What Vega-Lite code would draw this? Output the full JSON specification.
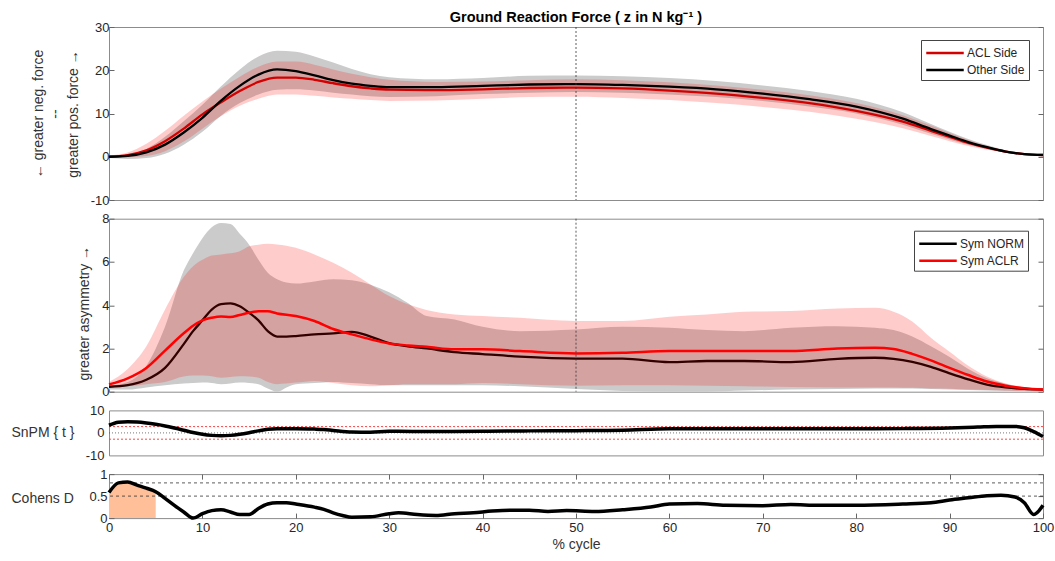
{
  "$schema": "https://vega.github.io/schema/vega-lite/v6.json",
  "padding": {"left": 10, "top": 9, "right": 10, "bottom": 2},
  "background": "white",
  "config": {
    "font": "Liberation Sans",
    "view": {"stroke": "#8c8c8c", "strokeWidth": 1},
    "axis": {
      "grid": false, "domain": false, "labelFlush": false, "labelOverlap": false,
      "labelFont": "Liberation Sans", "labelFontSize": 13, "labelColor": "#262626",
      "tickColor": "#666666", "tickSize": -5, "labelPadding": 5,
      "titleFont": "Liberation Sans", "titleFontSize": 14, "titleFontWeight": "normal", "titleColor": "#333333"
    },
    "legend": {
      "orient": "none", "strokeColor": "#444444", "fillColor": "white", "padding": 4,
      "labelFont": "Liberation Sans", "labelFontSize": 12, "labelColor": "#262626",
      "symbolType": "M-2.5,0H2.5", "symbolSize": 225, "symbolStrokeWidth": 2.5,
      "symbolOffset": 11, "labelOffset": 13, "rowPadding": 2
    }
  },
  "spacing": 18.7,
  "bounds": "flush",
  "resolve": {"scale": {"color": "independent", "x": "independent", "y": "independent"}, "legend": {"color": "independent"}},
  "datasets": {
    "grf": [
      {"x": 0, "series": "Other Side", "m": 0.0, "lo": -0.3, "hi": 0.3},
      {"x": 2, "series": "Other Side", "m": 0.2, "lo": -0.5, "hi": 0.5},
      {"x": 4, "series": "Other Side", "m": 1.0, "lo": -0.3, "hi": 1.8},
      {"x": 6, "series": "Other Side", "m": 2.8, "lo": 0.7, "hi": 4.6},
      {"x": 8, "series": "Other Side", "m": 5.6, "lo": 2.8, "hi": 8.2},
      {"x": 10, "series": "Other Side", "m": 9.0, "lo": 5.8, "hi": 12.0},
      {"x": 12, "series": "Other Side", "m": 13.0, "lo": 9.5, "hi": 16.3},
      {"x": 14, "series": "Other Side", "m": 16.4, "lo": 12.4, "hi": 20.2},
      {"x": 16, "series": "Other Side", "m": 19.0, "lo": 14.4, "hi": 23.2},
      {"x": 18, "series": "Other Side", "m": 20.2, "lo": 15.5, "hi": 24.5},
      {"x": 20, "series": "Other Side", "m": 19.8, "lo": 15.6, "hi": 24.3},
      {"x": 22, "series": "Other Side", "m": 18.8, "lo": 15.3, "hi": 23.2},
      {"x": 24, "series": "Other Side", "m": 17.7, "lo": 14.8, "hi": 21.8},
      {"x": 26, "series": "Other Side", "m": 16.9, "lo": 14.4, "hi": 20.3},
      {"x": 28, "series": "Other Side", "m": 16.4, "lo": 14.0, "hi": 19.1},
      {"x": 30, "series": "Other Side", "m": 16.1, "lo": 13.8, "hi": 18.4},
      {"x": 35, "series": "Other Side", "m": 16.1, "lo": 14.0, "hi": 17.9},
      {"x": 40, "series": "Other Side", "m": 16.4, "lo": 14.5, "hi": 18.2},
      {"x": 45, "series": "Other Side", "m": 16.7, "lo": 14.8, "hi": 18.7},
      {"x": 50, "series": "Other Side", "m": 16.8, "lo": 15.0, "hi": 18.8},
      {"x": 55, "series": "Other Side", "m": 16.6, "lo": 14.8, "hi": 18.6},
      {"x": 60, "series": "Other Side", "m": 16.2, "lo": 14.4, "hi": 18.2},
      {"x": 65, "series": "Other Side", "m": 15.6, "lo": 13.8, "hi": 17.5},
      {"x": 70, "series": "Other Side", "m": 14.6, "lo": 12.9, "hi": 16.5},
      {"x": 75, "series": "Other Side", "m": 13.3, "lo": 11.6, "hi": 15.2},
      {"x": 80, "series": "Other Side", "m": 11.6, "lo": 10.0, "hi": 13.4},
      {"x": 85, "series": "Other Side", "m": 8.8, "lo": 7.4, "hi": 10.3},
      {"x": 88, "series": "Other Side", "m": 6.4, "lo": 5.3, "hi": 7.6},
      {"x": 90, "series": "Other Side", "m": 4.9, "lo": 4.0, "hi": 5.8},
      {"x": 92, "series": "Other Side", "m": 3.4, "lo": 2.8, "hi": 4.1},
      {"x": 94, "series": "Other Side", "m": 2.2, "lo": 1.8, "hi": 2.7},
      {"x": 96, "series": "Other Side", "m": 1.2, "lo": 0.9, "hi": 1.5},
      {"x": 98, "series": "Other Side", "m": 0.6, "lo": 0.4, "hi": 0.8},
      {"x": 100, "series": "Other Side", "m": 0.4, "lo": 0.3, "hi": 0.5},
      {"x": 0, "series": "ACL Side", "m": 0.0, "lo": -0.2, "hi": 0.3},
      {"x": 2, "series": "ACL Side", "m": 0.4, "lo": -0.1, "hi": 1.0},
      {"x": 4, "series": "ACL Side", "m": 1.5, "lo": 0.2, "hi": 3.0},
      {"x": 6, "series": "ACL Side", "m": 3.6, "lo": 1.3, "hi": 6.0},
      {"x": 8, "series": "ACL Side", "m": 6.5, "lo": 3.5, "hi": 9.5},
      {"x": 10, "series": "ACL Side", "m": 9.8, "lo": 6.5, "hi": 12.8},
      {"x": 12, "series": "ACL Side", "m": 12.6, "lo": 9.4, "hi": 15.8},
      {"x": 14, "series": "ACL Side", "m": 15.2, "lo": 11.8, "hi": 18.5},
      {"x": 16, "series": "ACL Side", "m": 17.3, "lo": 13.4, "hi": 20.8},
      {"x": 18, "series": "ACL Side", "m": 18.3, "lo": 14.4, "hi": 22.0},
      {"x": 20, "series": "ACL Side", "m": 18.3, "lo": 14.4, "hi": 22.0},
      {"x": 22, "series": "ACL Side", "m": 17.8, "lo": 14.1, "hi": 21.3},
      {"x": 24, "series": "ACL Side", "m": 17.0, "lo": 13.7, "hi": 20.2},
      {"x": 26, "series": "ACL Side", "m": 16.3, "lo": 13.4, "hi": 19.2},
      {"x": 28, "series": "ACL Side", "m": 15.8, "lo": 13.1, "hi": 18.4},
      {"x": 30, "series": "ACL Side", "m": 15.5, "lo": 12.9, "hi": 17.8},
      {"x": 35, "series": "ACL Side", "m": 15.4, "lo": 13.0, "hi": 17.3},
      {"x": 40, "series": "ACL Side", "m": 15.6, "lo": 13.4, "hi": 17.4},
      {"x": 45, "series": "ACL Side", "m": 15.9, "lo": 13.8, "hi": 17.7},
      {"x": 50, "series": "ACL Side", "m": 16.0, "lo": 13.9, "hi": 17.9},
      {"x": 55, "series": "ACL Side", "m": 15.8, "lo": 13.6, "hi": 17.7},
      {"x": 60, "series": "ACL Side", "m": 15.3, "lo": 13.1, "hi": 17.2},
      {"x": 65, "series": "ACL Side", "m": 14.6, "lo": 12.4, "hi": 16.5},
      {"x": 70, "series": "ACL Side", "m": 13.6, "lo": 11.5, "hi": 15.5},
      {"x": 75, "series": "ACL Side", "m": 12.4, "lo": 10.4, "hi": 14.2},
      {"x": 80, "series": "ACL Side", "m": 10.6, "lo": 8.8, "hi": 12.4},
      {"x": 85, "series": "ACL Side", "m": 8.1, "lo": 6.6, "hi": 9.6},
      {"x": 88, "series": "ACL Side", "m": 6.0, "lo": 4.8, "hi": 7.2},
      {"x": 90, "series": "ACL Side", "m": 4.6, "lo": 3.6, "hi": 5.5},
      {"x": 92, "series": "ACL Side", "m": 3.2, "lo": 2.5, "hi": 3.9},
      {"x": 94, "series": "ACL Side", "m": 2.1, "lo": 1.6, "hi": 2.5},
      {"x": 96, "series": "ACL Side", "m": 1.2, "lo": 0.9, "hi": 1.4},
      {"x": 98, "series": "ACL Side", "m": 0.6, "lo": 0.4, "hi": 0.7},
      {"x": 100, "series": "ACL Side", "m": 0.4, "lo": 0.3, "hi": 0.5}
    ],
    "asym": [
      {"x": 0, "series": "Sym NORM", "m": 0.23, "lo": 0.1, "hi": 0.28},
      {"x": 2, "series": "Sym NORM", "m": 0.3, "lo": 0.1, "hi": 0.45},
      {"x": 4, "series": "Sym NORM", "m": 0.55, "lo": 0.2, "hi": 1.2},
      {"x": 6, "series": "Sym NORM", "m": 1.1, "lo": 0.3, "hi": 3.0},
      {"x": 8, "series": "Sym NORM", "m": 2.2, "lo": 0.38, "hi": 5.6},
      {"x": 9, "series": "Sym NORM", "m": 2.8, "lo": 0.4, "hi": 6.4},
      {"x": 10, "series": "Sym NORM", "m": 3.3, "lo": 0.42, "hi": 7.1},
      {"x": 11, "series": "Sym NORM", "m": 3.8, "lo": 0.4, "hi": 7.6},
      {"x": 12, "series": "Sym NORM", "m": 4.05, "lo": 0.35, "hi": 7.8},
      {"x": 13, "series": "Sym NORM", "m": 4.08, "lo": 0.38, "hi": 7.75},
      {"x": 14, "series": "Sym NORM", "m": 3.95, "lo": 0.42, "hi": 7.3},
      {"x": 15, "series": "Sym NORM", "m": 3.65, "lo": 0.4, "hi": 6.8},
      {"x": 16, "series": "Sym NORM", "m": 3.3, "lo": 0.35, "hi": 6.1},
      {"x": 17, "series": "Sym NORM", "m": 2.8, "lo": 0.15, "hi": 5.5},
      {"x": 18, "series": "Sym NORM", "m": 2.55, "lo": 0.0, "hi": 5.2},
      {"x": 19, "series": "Sym NORM", "m": 2.55, "lo": 0.2, "hi": 5.05},
      {"x": 20, "series": "Sym NORM", "m": 2.57, "lo": 0.35, "hi": 5.0},
      {"x": 22, "series": "Sym NORM", "m": 2.65, "lo": 0.4, "hi": 5.1},
      {"x": 24, "series": "Sym NORM", "m": 2.7, "lo": 0.45, "hi": 5.2},
      {"x": 26, "series": "Sym NORM", "m": 2.77, "lo": 0.4, "hi": 5.15},
      {"x": 28, "series": "Sym NORM", "m": 2.55, "lo": 0.35, "hi": 4.95},
      {"x": 30, "series": "Sym NORM", "m": 2.25, "lo": 0.3, "hi": 4.6},
      {"x": 32, "series": "Sym NORM", "m": 2.1, "lo": 0.3, "hi": 4.1},
      {"x": 34, "series": "Sym NORM", "m": 2.0, "lo": 0.3, "hi": 3.5},
      {"x": 37, "series": "Sym NORM", "m": 1.83, "lo": 0.3, "hi": 3.34},
      {"x": 40, "series": "Sym NORM", "m": 1.74, "lo": 0.3, "hi": 3.0},
      {"x": 44, "series": "Sym NORM", "m": 1.62, "lo": 0.25, "hi": 2.8},
      {"x": 50, "series": "Sym NORM", "m": 1.53, "lo": 0.12, "hi": 2.88},
      {"x": 55, "series": "Sym NORM", "m": 1.53, "lo": 0.03, "hi": 3.0},
      {"x": 60, "series": "Sym NORM", "m": 1.37, "lo": 0.0, "hi": 2.96},
      {"x": 64, "series": "Sym NORM", "m": 1.42, "lo": 0.0, "hi": 2.85},
      {"x": 68, "series": "Sym NORM", "m": 1.42, "lo": 0.05, "hi": 2.8},
      {"x": 73, "series": "Sym NORM", "m": 1.37, "lo": 0.1, "hi": 2.96},
      {"x": 78, "series": "Sym NORM", "m": 1.52, "lo": 0.12, "hi": 3.03},
      {"x": 82, "series": "Sym NORM", "m": 1.57, "lo": 0.15, "hi": 2.96},
      {"x": 84, "series": "Sym NORM", "m": 1.52, "lo": 0.15, "hi": 2.85},
      {"x": 86, "series": "Sym NORM", "m": 1.38, "lo": 0.15, "hi": 2.55},
      {"x": 88, "series": "Sym NORM", "m": 1.15, "lo": 0.12, "hi": 2.1},
      {"x": 90, "series": "Sym NORM", "m": 0.85, "lo": 0.1, "hi": 1.6},
      {"x": 92, "series": "Sym NORM", "m": 0.57, "lo": 0.08, "hi": 1.05},
      {"x": 94, "series": "Sym NORM", "m": 0.33, "lo": 0.05, "hi": 0.62},
      {"x": 96, "series": "Sym NORM", "m": 0.2, "lo": 0.03, "hi": 0.37},
      {"x": 98, "series": "Sym NORM", "m": 0.13, "lo": 0.02, "hi": 0.2},
      {"x": 100, "series": "Sym NORM", "m": 0.1, "lo": 0.0, "hi": 0.1},
      {"x": 0, "series": "Sym ACLR", "m": 0.34, "lo": 0.2, "hi": 0.45},
      {"x": 2, "series": "Sym ACLR", "m": 0.62, "lo": 0.25, "hi": 1.05},
      {"x": 4, "series": "Sym ACLR", "m": 1.1, "lo": 0.35, "hi": 2.1},
      {"x": 6, "series": "Sym ACLR", "m": 1.9, "lo": 0.45, "hi": 3.8},
      {"x": 8, "series": "Sym ACLR", "m": 2.7, "lo": 0.7, "hi": 5.3},
      {"x": 9, "series": "Sym ACLR", "m": 3.05, "lo": 0.75, "hi": 5.8},
      {"x": 10, "series": "Sym ACLR", "m": 3.3, "lo": 0.75, "hi": 6.1},
      {"x": 11, "series": "Sym ACLR", "m": 3.42, "lo": 0.72, "hi": 6.3},
      {"x": 12, "series": "Sym ACLR", "m": 3.48, "lo": 0.65, "hi": 6.35},
      {"x": 13, "series": "Sym ACLR", "m": 3.45, "lo": 0.68, "hi": 6.4},
      {"x": 14, "series": "Sym ACLR", "m": 3.55, "lo": 0.72, "hi": 6.5},
      {"x": 15, "series": "Sym ACLR", "m": 3.65, "lo": 0.7, "hi": 6.73},
      {"x": 16, "series": "Sym ACLR", "m": 3.72, "lo": 0.65, "hi": 6.8},
      {"x": 17, "series": "Sym ACLR", "m": 3.72, "lo": 0.45, "hi": 6.84},
      {"x": 18, "series": "Sym ACLR", "m": 3.62, "lo": 0.35, "hi": 6.81},
      {"x": 20, "series": "Sym ACLR", "m": 3.5, "lo": 0.42, "hi": 6.66},
      {"x": 22, "series": "Sym ACLR", "m": 3.27, "lo": 0.5, "hi": 6.35},
      {"x": 24, "series": "Sym ACLR", "m": 2.9, "lo": 0.4, "hi": 5.96},
      {"x": 26, "series": "Sym ACLR", "m": 2.65, "lo": 0.3, "hi": 5.5},
      {"x": 28, "series": "Sym ACLR", "m": 2.42, "lo": 0.25, "hi": 4.96},
      {"x": 30, "series": "Sym ACLR", "m": 2.23, "lo": 0.3, "hi": 4.42},
      {"x": 32, "series": "Sym ACLR", "m": 2.14, "lo": 0.35, "hi": 4.04},
      {"x": 34, "series": "Sym ACLR", "m": 2.08, "lo": 0.35, "hi": 3.78},
      {"x": 37, "series": "Sym ACLR", "m": 1.96, "lo": 0.35, "hi": 3.57},
      {"x": 40, "series": "Sym ACLR", "m": 1.96, "lo": 0.4, "hi": 3.5},
      {"x": 44, "series": "Sym ACLR", "m": 1.88, "lo": 0.35, "hi": 3.42},
      {"x": 50, "series": "Sym ACLR", "m": 1.77, "lo": 0.28, "hi": 3.27},
      {"x": 55, "series": "Sym ACLR", "m": 1.8, "lo": 0.3, "hi": 3.27},
      {"x": 60, "series": "Sym ACLR", "m": 1.88, "lo": 0.3, "hi": 3.47},
      {"x": 64, "series": "Sym ACLR", "m": 1.88, "lo": 0.28, "hi": 3.57},
      {"x": 68, "series": "Sym ACLR", "m": 1.88, "lo": 0.25, "hi": 3.7},
      {"x": 73, "series": "Sym ACLR", "m": 1.88, "lo": 0.22, "hi": 3.73},
      {"x": 78, "series": "Sym ACLR", "m": 2.0, "lo": 0.2, "hi": 3.85},
      {"x": 82, "series": "Sym ACLR", "m": 2.03, "lo": 0.2, "hi": 3.88},
      {"x": 84, "series": "Sym ACLR", "m": 1.97, "lo": 0.2, "hi": 3.7},
      {"x": 86, "series": "Sym ACLR", "m": 1.75, "lo": 0.18, "hi": 3.25},
      {"x": 88, "series": "Sym ACLR", "m": 1.45, "lo": 0.15, "hi": 2.5},
      {"x": 90, "series": "Sym ACLR", "m": 1.1, "lo": 0.14, "hi": 1.85},
      {"x": 92, "series": "Sym ACLR", "m": 0.77, "lo": 0.1, "hi": 1.2},
      {"x": 94, "series": "Sym ACLR", "m": 0.47, "lo": 0.08, "hi": 0.7},
      {"x": 96, "series": "Sym ACLR", "m": 0.28, "lo": 0.05, "hi": 0.38},
      {"x": 98, "series": "Sym ACLR", "m": 0.16, "lo": 0.03, "hi": 0.2},
      {"x": 100, "series": "Sym ACLR", "m": 0.1, "lo": 0.02, "hi": 0.1}
    ],
    "snpm": [
      {"x": 0, "t": 3.4}, {"x": 1, "t": 4.7}, {"x": 2, "t": 5.0}, {"x": 3, "t": 4.85},
      {"x": 4, "t": 4.4}, {"x": 5, "t": 3.8}, {"x": 6, "t": 3.1}, {"x": 7, "t": 2.2},
      {"x": 8, "t": 1.2}, {"x": 9, "t": 0.2}, {"x": 10, "t": -0.6}, {"x": 11, "t": -1.1},
      {"x": 12, "t": -1.3}, {"x": 13, "t": -1.1}, {"x": 14, "t": -0.6}, {"x": 15, "t": 0.1},
      {"x": 16, "t": 0.9}, {"x": 17, "t": 1.6}, {"x": 18, "t": 1.9}, {"x": 20, "t": 1.9},
      {"x": 22, "t": 1.7}, {"x": 23, "t": 1.5}, {"x": 24, "t": 1.1}, {"x": 26, "t": 0.4},
      {"x": 28, "t": 0.3}, {"x": 30, "t": 0.7}, {"x": 35, "t": 0.6}, {"x": 40, "t": 0.7},
      {"x": 45, "t": 0.9}, {"x": 50, "t": 1.0}, {"x": 55, "t": 1.2}, {"x": 60, "t": 1.8},
      {"x": 65, "t": 1.8}, {"x": 70, "t": 1.8}, {"x": 75, "t": 1.8}, {"x": 80, "t": 1.8},
      {"x": 85, "t": 1.9}, {"x": 90, "t": 2.2}, {"x": 93, "t": 2.6}, {"x": 95, "t": 2.9},
      {"x": 97, "t": 2.9}, {"x": 98, "t": 2.3}, {"x": 99, "t": 0.6}, {"x": 100, "t": -1.6}
    ],
    "cohen": [
      {"x": 0, "d": 0.58}, {"x": 1, "d": 0.8}, {"x": 2, "d": 0.82}, {"x": 3, "d": 0.75},
      {"x": 4, "d": 0.68}, {"x": 5, "d": 0.6}, {"x": 6, "d": 0.45}, {"x": 7, "d": 0.29},
      {"x": 8, "d": 0.14}, {"x": 9, "d": 0.0}, {"x": 10, "d": 0.1}, {"x": 11, "d": 0.17},
      {"x": 12, "d": 0.19}, {"x": 13, "d": 0.14}, {"x": 14, "d": 0.08}, {"x": 15, "d": 0.08},
      {"x": 16, "d": 0.22}, {"x": 17, "d": 0.32}, {"x": 18, "d": 0.35}, {"x": 19, "d": 0.35},
      {"x": 20, "d": 0.32}, {"x": 22, "d": 0.25}, {"x": 23, "d": 0.2}, {"x": 24, "d": 0.12},
      {"x": 25, "d": 0.06}, {"x": 26, "d": 0.02}, {"x": 28, "d": 0.03}, {"x": 30, "d": 0.1},
      {"x": 31, "d": 0.12}, {"x": 33, "d": 0.08}, {"x": 35, "d": 0.06}, {"x": 37, "d": 0.1},
      {"x": 39, "d": 0.12}, {"x": 41, "d": 0.16}, {"x": 43, "d": 0.18}, {"x": 45, "d": 0.18},
      {"x": 47, "d": 0.15}, {"x": 49, "d": 0.17}, {"x": 52, "d": 0.15}, {"x": 55, "d": 0.19},
      {"x": 58, "d": 0.25}, {"x": 60, "d": 0.32}, {"x": 63, "d": 0.33}, {"x": 66, "d": 0.29},
      {"x": 70, "d": 0.28}, {"x": 73, "d": 0.31}, {"x": 76, "d": 0.29}, {"x": 80, "d": 0.29},
      {"x": 85, "d": 0.32}, {"x": 88, "d": 0.35}, {"x": 90, "d": 0.41}, {"x": 92, "d": 0.46},
      {"x": 94, "d": 0.51}, {"x": 95.5, "d": 0.52}, {"x": 97, "d": 0.48}, {"x": 98, "d": 0.35},
      {"x": 99, "d": 0.08}, {"x": 100, "d": 0.29}
    ]
  },
  "vconcat": [
    {
      "width": 934, "height": 173,
      "title": {"text": "Ground Reaction Force ( z in N kg⁻¹ )", "fontSize": 14.5, "fontWeight": "bold", "anchor": "middle", "frame": "group", "offset": -4, "color": "#000000", "font": "Liberation Sans"},
      "data": {"name": "grf"},
      "resolve": {"axis": {"y": "independent"}},
      "layer": [
        {
          "transform": [{"filter": "datum.series === 'Other Side'"}],
          "mark": {"type": "area", "interpolate": "monotone", "color": "#cbcbcb", "opacity": 1},
          "encoding": {
            "x": {"field": "x", "type": "quantitative", "scale": {"domain": [0, 100], "nice": false}, "axis": null},
            "y": {"field": "lo", "type": "quantitative", "scale": {"domain": [-10, 30], "nice": false},
              "axis": {"values": [-10, 0, 10, 20, 30], "labelExpr": "'' + datum.value",
                "title": ["← greater neg. force", "--", "greater pos. force →"],
                "titleAngle": -90, "titleX": -71, "titleY": 86.5, "titleAlign": "center", "titleBaseline": "middle", "titleLineHeight": 17.5}},
            "y2": {"field": "hi"}
          }
        },
        {
          "transform": [{"filter": "datum.series === 'ACL Side'"}],
          "mark": {"type": "area", "interpolate": "monotone", "color": "#ff0000", "opacity": 0.2},
          "encoding": {
            "x": {"field": "x", "type": "quantitative", "axis": null},
            "y": {"field": "lo", "type": "quantitative", "axis": null},
            "y2": {"field": "hi"}
          }
        },
        {
          "transform": [{"filter": "datum.series === 'ACL Side'"}],
          "mark": {"type": "line", "interpolate": "monotone", "strokeWidth": 2.3},
          "encoding": {
            "x": {"field": "x", "type": "quantitative", "axis": null},
            "y": {"field": "m", "type": "quantitative", "axis": null},
            "color": {"field": "series", "type": "nominal", "scale": {"domain": ["ACL Side", "Other Side"], "range": ["#d40000", "#000000"]}, "legend": {"title": null, "legendX": 812, "legendY": 13}}
          }
        },
        {
          "transform": [{"filter": "datum.series === 'Other Side'"}],
          "mark": {"type": "line", "interpolate": "monotone", "strokeWidth": 2.3},
          "encoding": {
            "x": {"field": "x", "type": "quantitative", "axis": null},
            "y": {"field": "m", "type": "quantitative", "axis": {"orient": "right", "values": [-10, 0, 10, 20, 30], "labels": false, "title": null}},
            "color": {"field": "series", "type": "nominal"}
          }
        },
        {
          "data": {"values": [{"x": 50}]},
          "mark": {"type": "rule", "color": "#333333", "strokeDash": [2, 2], "strokeWidth": 0.8},
          "encoding": {"x": {"field": "x", "type": "quantitative", "axis": null}}
        }
      ]
    },
    {
      "width": 934, "height": 173,
      "data": {"name": "asym"},
      "resolve": {"axis": {"y": "independent"}},
      "layer": [
        {
          "transform": [{"filter": "datum.series === 'Sym NORM'"}],
          "mark": {"type": "area", "interpolate": "monotone", "color": "#cbcbcb", "opacity": 1},
          "encoding": {
            "x": {"field": "x", "type": "quantitative", "scale": {"domain": [0, 100], "nice": false}, "axis": null},
            "y": {"field": "lo", "type": "quantitative", "scale": {"domain": [0, 8], "nice": false},
              "axis": {"values": [0, 2, 4, 6, 8], "labelExpr": "'' + datum.value",
                "title": "greater asymmetry →", "titleAngle": -90, "titleX": -25, "titleY": 94, "titleAlign": "center", "titleBaseline": "middle"}},
            "y2": {"field": "hi"}
          }
        },
        {
          "transform": [{"filter": "datum.series === 'Sym NORM'"}],
          "mark": {"type": "line", "interpolate": "monotone", "strokeWidth": 2.3},
          "encoding": {
            "x": {"field": "x", "type": "quantitative", "axis": null},
            "y": {"field": "m", "type": "quantitative", "axis": null},
            "color": {"field": "series", "type": "nominal", "scale": {"domain": ["Sym NORM", "Sym ACLR"], "range": ["#000000", "#ff0000"]}, "legend": {"title": null, "legendX": 805, "legendY": 12}}
          }
        },
        {
          "transform": [{"filter": "datum.series === 'Sym ACLR'"}],
          "mark": {"type": "area", "interpolate": "monotone", "color": "#ff0000", "opacity": 0.2},
          "encoding": {
            "x": {"field": "x", "type": "quantitative", "axis": null},
            "y": {"field": "lo", "type": "quantitative", "axis": null},
            "y2": {"field": "hi"}
          }
        },
        {
          "transform": [{"filter": "datum.series === 'Sym ACLR'"}],
          "mark": {"type": "line", "interpolate": "monotone", "strokeWidth": 2.5},
          "encoding": {
            "x": {"field": "x", "type": "quantitative", "axis": null},
            "y": {"field": "m", "type": "quantitative", "axis": {"orient": "right", "values": [0, 2, 4, 6, 8], "labels": false, "title": null}},
            "color": {"field": "series", "type": "nominal"}
          }
        },
        {
          "data": {"values": [{"x": 50}]},
          "mark": {"type": "rule", "color": "#333333", "strokeDash": [2, 2], "strokeWidth": 0.8},
          "encoding": {"x": {"field": "x", "type": "quantitative", "axis": null}}
        }
      ]
    },
    {
      "width": 934, "height": 45,
      "resolve": {"axis": {"y": "independent"}},
      "layer": [
        {
          "data": {"values": [{"y": 2.8}, {"y": -2.8}]},
          "mark": {"type": "rule", "color": "#ff4444", "strokeDash": [2, 2], "strokeWidth": 1},
          "encoding": {"y": {"field": "y", "type": "quantitative", "scale": {"domain": [-10, 10], "nice": false}, "axis": null}}
        },
        {
          "data": {"values": [{"y": 0}]},
          "mark": {"type": "rule", "color": "#555555", "strokeDash": [1, 2], "strokeWidth": 0.8},
          "encoding": {"y": {"field": "y", "type": "quantitative", "axis": null}}
        },
        {
          "data": {"name": "snpm"},
          "mark": {"type": "line", "interpolate": "monotone", "color": "#000000", "strokeWidth": 3.5},
          "encoding": {
            "x": {"field": "x", "type": "quantitative", "scale": {"domain": [0, 100], "nice": false}, "axis": null},
            "y": {"field": "t", "type": "quantitative",
              "axis": {"values": [-10, 0, 10], "labelExpr": "'' + datum.value", "tickSize": 0, "labelOverlap": false, "labelBound": false,
                "title": "SnPM { t }", "titleAngle": 0, "titleX": -98, "titleY": 22.5, "titleAlign": "left", "titleBaseline": "middle", "titleColor": "#333333"}}
          }
        }
      ]
    },
    {
      "width": 934, "height": 44,
      "resolve": {"axis": {"x": "independent", "y": "independent"}},
      "layer": [
        {
          "data": {"name": "cohen"},
          "transform": [{"filter": "datum.x <= 5"}],
          "mark": {"type": "area", "interpolate": "monotone", "color": "#ffbf99", "opacity": 1},
          "encoding": {
            "x": {"field": "x", "type": "quantitative", "scale": {"domain": [0, 100], "nice": false},
              "axis": {"values": [0, 10, 20, 30, 40, 50, 60, 70, 80, 90, 100], "labelExpr": "'' + datum.value", "title": "% cycle", "titlePadding": 3, "labelPadding": 8}},
            "y": {"field": "d", "type": "quantitative", "scale": {"domain": [0, 1], "nice": false},
              "axis": {"values": [0, 0.5, 1], "labelExpr": "'' + datum.value", "labelPadding": 7,
                "title": "Cohens D", "titleAngle": 0, "titleX": -98, "titleY": 24, "titleAlign": "left", "titleBaseline": "middle", "titleColor": "#333333"}}
          }
        },
        {
          "data": {"values": [{"y": 0.8}, {"y": 0.5}]},
          "mark": {"type": "rule", "color": "#333333", "strokeDash": [3, 3], "strokeWidth": 0.8},
          "encoding": {"y": {"field": "y", "type": "quantitative", "axis": null}}
        },
        {
          "data": {"name": "cohen"},
          "mark": {"type": "line", "interpolate": "monotone", "color": "#000000", "strokeWidth": 3.5},
          "encoding": {
            "x": {"field": "x", "type": "quantitative", "axis": {"orient": "top", "values": [0, 10, 20, 30, 40, 50, 60, 70, 80, 90, 100], "labels": false, "title": null}},
            "y": {"field": "d", "type": "quantitative", "axis": {"orient": "right", "values": [0, 0.5, 1], "labels": false, "title": null}}
          }
        }
      ]
    }
  ]
}
